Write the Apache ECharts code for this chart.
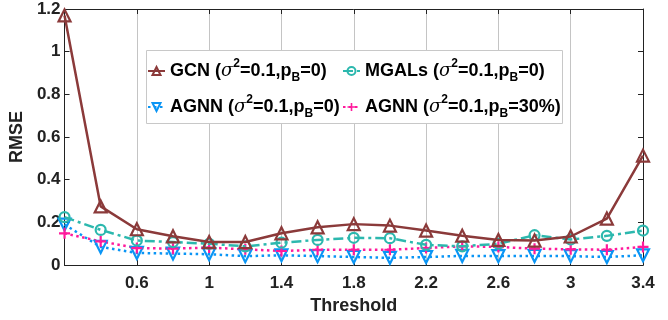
<!DOCTYPE html>
<html><head><meta charset="utf-8">
<script src="https://cdn.jsdelivr.net/npm/echarts@6/dist/echarts.min.js"></script>
<style>html,body{margin:0;padding:0;background:#fff}#c{width:668px;height:320px}</style>
</head><body><div id="c"></div>
<script>
const thresholds = [0.2,0.4,0.6,0.8,1.0,1.2,1.4,1.6,1.8,2.0,2.2,2.4,2.6,2.8,3.0,3.2,3.4];
const gcn   = [1.17,0.275,0.168,0.135,0.108,0.108,0.149,0.177,0.192,0.185,0.162,0.138,0.118,0.115,0.134,0.218,0.513];
const mgals = [0.225,0.165,0.115,0.108,0.100,0.088,0.105,0.118,0.128,0.126,0.095,0.088,0.100,0.140,0.120,0.137,0.162];
const agnn  = [0.190,0.085,0.057,0.054,0.051,0.042,0.046,0.042,0.038,0.034,0.038,0.043,0.042,0.043,0.042,0.038,0.046];
const agnn30= [0.149,0.111,0.080,0.077,0.082,0.074,0.066,0.072,0.072,0.072,0.080,0.088,0.085,0.077,0.074,0.072,0.085];
const labels = {
  GCN: '{a|GCN (}{i|σ}{sup|2}{a|=0.1,p}{sub|B}{a|=0)}',
  MGALs: '{a|MGALs (}{i|σ}{sup|2}{a|=0.1,p}{sub|B}{a|=0)}',
  AGNN: '{a|AGNN (}{i|σ}{sup|2}{a|=0.1,p}{sub|B}{a|=0)}',
  AGNN30: '{a|AGNN (}{i|σ}{sup|2}{a|=0.1,p}{sub|B}{a|=30%)}'
};
const F = 'Liberation Sans, Arial, Helvetica, sans-serif';
const rich = {
  a:{fontSize:18,fontWeight:'bold',fontFamily:F,color:'#000',lineHeight:26,verticalAlign:'middle'},
  i:{fontSize:18,fontStyle:'italic',fontFamily:'DejaVu Serif, serif',color:'#000',lineHeight:26,verticalAlign:'middle'},
  sup:{fontSize:12,fontWeight:'bold',fontFamily:F,color:'#000',lineHeight:26,verticalAlign:'top'},
  sub:{fontSize:12,fontWeight:'bold',fontFamily:F,color:'#000',lineHeight:26,verticalAlign:'bottom'}
};
const pair = a => a.map((v,i)=>[thresholds[i],v]);
const plusPath = 'path://M4,0H6V4H10V6H6V10H4V6H0V4H4Z';
const chart = echarts.init(document.getElementById('c'), null, {renderer:'canvas'});
const legendCommon = {
  orient:'vertical', itemWidth:17, itemHeight:10, itemGap:10, padding:0,
  textStyle:{rich}, formatter:n=>labels[n], z:10
};
chart.setOption({
  animation:false,
  backgroundColor:'#fff',
  grid:{left:61,right:25,top:9,bottom:52,containLabel:false},
  graphic:[{type:'rect',shape:{x:146.5,y:50.5,width:416,height:73},style:{fill:'#fff',stroke:'#c8c8c8',lineWidth:1},z:9}],
  legend:[
    Object.assign({left:147,top:58,data:['GCN','AGNN']},legendCommon),
    Object.assign({left:342,top:58,data:['MGALs','AGNN30']},legendCommon)
  ],
  xAxis:[{
    type:'value',min:0.2,max:3.4,interval:0.4,
    name:'Threshold',nameLocation:'middle',nameGap:28,
    nameTextStyle:{fontSize:18,fontWeight:'bold',fontFamily:F,color:'#222'},
    axisLine:{onZero:false,lineStyle:{color:'#222',width:1}},
    axisTick:{inside:true,length:5,lineStyle:{color:'#222'}},
    axisLabel:{showMinLabel:false,fontSize:17,fontWeight:'bold',fontFamily:F,color:'#222',margin:10,formatter:v=>String(+v.toFixed(1))},
    splitLine:{show:true,lineStyle:{color:'#c4c4c4',width:1}}
  },{
    type:'value',position:'top',min:0.2,max:3.4,interval:0.4,
    axisLine:{onZero:false,lineStyle:{color:'#222',width:1}},
    axisTick:{inside:true,length:5,lineStyle:{color:'#222'}},
    axisLabel:{show:false},splitLine:{show:false}
  }],
  yAxis:[{
    type:'value',min:0,max:1.2,interval:0.2,
    name:'RMSE',nameLocation:'middle',nameGap:33,
    nameTextStyle:{fontSize:18,fontWeight:'bold',fontFamily:F,color:'#222'},
    axisLine:{show:true,onZero:false,lineStyle:{color:'#222',width:1}},
    axisTick:{show:true,inside:true,length:5,lineStyle:{color:'#222'}},
    axisLabel:{fontSize:17,fontWeight:'bold',fontFamily:F,color:'#222',margin:4,formatter:v=>String(+v.toFixed(1))},
    splitLine:{show:false}
  },{
    type:'value',position:'right',min:0,max:1.2,interval:0.2,
    axisLine:{show:true,onZero:false,lineStyle:{color:'#222',width:1}},
    axisTick:{show:true,inside:true,length:5,lineStyle:{color:'#222'}},
    axisLabel:{show:false},splitLine:{show:false}
  }],
  series:[
    {name:'GCN',type:'line',data:pair(gcn),symbol:'triangle',symbolSize:12,showAllSymbol:true,
     lineStyle:{color:'#8b3a3a',width:2.5,type:'solid'},
     itemStyle:{color:'rgba(255,255,255,0)',borderColor:'#8b3a3a',borderWidth:2.2},z:5},
    {name:'MGALs',type:'line',data:pair(mgals),symbol:'circle',symbolSize:10,showAllSymbol:true,
     lineStyle:{color:'#2cb8ae',width:2.5,type:[10,4,3,4]},
     itemStyle:{color:'rgba(255,255,255,0)',borderColor:'#2cb8ae',borderWidth:2.2},z:4},
    {name:'AGNN',type:'line',data:pair(agnn),symbol:'triangle',symbolRotate:180,symbolSize:12,showAllSymbol:true,
     lineStyle:{color:'#0a95f5',width:2.5,type:[2.5,3.5]},
     itemStyle:{color:'rgba(255,255,255,0)',borderColor:'#0a95f5',borderWidth:2.2},z:3},
    {name:'AGNN30',type:'line',data:pair(agnn30),symbol:plusPath,symbolSize:11,showAllSymbol:true,
     lineStyle:{color:'#ff1a9c',width:2.5,type:[2.5,3.5]},
     itemStyle:{color:'#ff1a9c',borderWidth:0},z:3}
  ]
});
</script></body></html>
